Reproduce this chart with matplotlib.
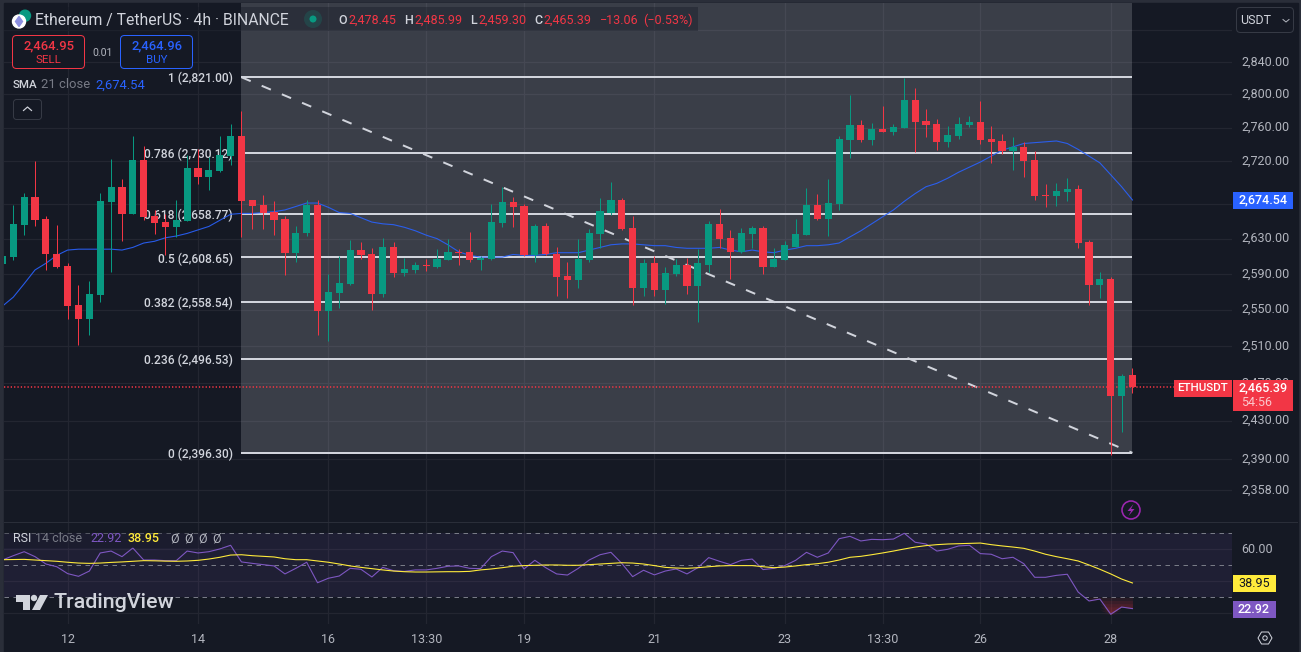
import matplotlib
matplotlib.use("Agg")
import matplotlib.pyplot as plt
from matplotlib.patches import Circle, FancyBboxPatch, Polygon, Rectangle
import numpy as np

plt.rcParams['font.family'] = ['Roboto', 'DejaVu Sans']
plt.rcParams['ytick.alignment'] = 'center'

# 4h candles, first one is cut by the left edge of the chart
opens = [2601, 2609, 2646, 2678, 2652, 2613, 2599, 2555, 2540, 2566, 2672, 2690, 2658, 2722, 2656, 2649, 2643, 2650,
         2712, 2701, 2708, 2726, 2750, 2674, 2669, 2661, 2652, 2614, 2636, 2669, 2549, 2569, 2579, 2617, 2612, 2568,
         2620, 2591, 2594.5, 2600, 2598, 2606, 2615, 2615, 2606, 2607, 2648, 2672, 2667, 2611, 2644, 2613, 2588, 2583,
         2606, 2635, 2660, 2674, 2642, 2574, 2602, 2572, 2590, 2600, 2576, 2600, 2647, 2631, 2615, 2635, 2642, 2598,
         2606, 2621, 2634, 2669, 2652, 2670, 2745, 2763, 2745, 2758, 2755, 2759, 2793, 2768, 2764, 2743, 2750, 2763,
         2767, 2746, 2744, 2732, 2737, 2721, 2680, 2679, 2684, 2687, 2626, 2578, 2584, 2456, 2478.45]
highs = [2614, 2669, 2683, 2720, 2656, 2646, 2602, 2578, 2582, 2683, 2723, 2699, 2750, 2738, 2663, 2658, 2674, 2727,
         2734, 2725, 2750, 2764, 2780, 2674, 2680, 2673, 2656, 2644, 2675, 2674, 2590, 2610, 2628, 2626, 2619, 2631,
         2626, 2608, 2603, 2607, 2618, 2630, 2618, 2638, 2610, 2670, 2690, 2678, 2670, 2647, 2648, 2621, 2604, 2630,
         2641, 2677, 2695, 2677, 2656, 2607, 2610, 2598, 2607, 2608, 2618, 2650, 2664, 2640, 2642, 2644, 2644, 2619,
         2627, 2652, 2688, 2681, 2699, 2750, 2799, 2769, 2765, 2786, 2764, 2820, 2808, 2782, 2770, 2762, 2773, 2774,
         2792, 2762, 2752, 2749, 2743, 2732, 2693, 2694, 2700, 2692, 2628, 2592, 2587, 2480, 2485.99]
lows = [2596, 2606, 2634, 2644, 2594, 2597, 2540, 2511, 2522, 2559, 2592, 2627, 2658, 2651, 2635, 2611, 2632, 2650,
        2693, 2686, 2707, 2715, 2632, 2641, 2641, 2634, 2589, 2604, 2633, 2522, 2516, 2552, 2578, 2607, 2550, 2564,
        2587, 2588, 2591, 2593, 2597, 2606, 2600, 2604, 2594, 2606, 2643, 2643, 2610, 2603, 2611, 2565, 2563, 2574,
        2604, 2619, 2657, 2640, 2555, 2565, 2565, 2556, 2588, 2567, 2537, 2592, 2619, 2584, 2614, 2619, 2590, 2598,
        2606, 2621, 2634, 2651, 2633, 2663, 2724, 2743, 2739, 2755, 2751, 2759, 2731, 2749, 2733, 2737, 2746, 2761,
        2740, 2718, 2728, 2710, 2701, 2675, 2666, 2667, 2673, 2619, 2555, 2563, 2394, 2418, 2459.30]
closes = [2610, 2647, 2678, 2651, 2612, 2598, 2554, 2540, 2568, 2673, 2690, 2658, 2722, 2655, 2648, 2643, 2651, 2712,
          2701, 2710, 2727, 2750, 2673, 2667, 2660, 2651, 2614, 2637, 2669, 2549, 2570, 2580, 2617, 2611, 2568, 2620,
          2591, 2596, 2600, 2599, 2607, 2615, 2614, 2606, 2608, 2649, 2672, 2666, 2611, 2644, 2612, 2587, 2583, 2607,
          2636, 2662, 2674, 2641, 2574, 2602, 2572, 2591, 2600, 2576, 2602, 2647, 2630, 2615, 2636, 2642, 2598, 2607,
          2623, 2635, 2669, 2652, 2671, 2746, 2763, 2745, 2758, 2755, 2761, 2793, 2767, 2763, 2743, 2751, 2764, 2767,
          2745, 2743, 2732, 2737, 2720, 2679, 2679, 2685, 2687, 2625, 2578, 2584, 2456, 2478, 2465.39]

sma21 = [2554, 2564, 2579, 2594.5, 2602, 2611, 2617, 2618, 2618, 2618, 2618, 2617, 2620, 2625, 2627, 2631, 2633,
         2636, 2640, 2644, 2651, 2658, 2659, 2659, 2660, 2661, 2663, 2667, 2671, 2671, 2666, 2660, 2659, 2654, 2649,
         2647, 2646, 2643, 2639, 2634, 2630, 2623, 2615, 2611, 2609, 2609, 2609, 2612, 2611, 2611, 2612, 2614, 2614,
         2614, 2617, 2620, 2623, 2624, 2624, 2623, 2622, 2622, 2620, 2619, 2619, 2619, 2620, 2617, 2615, 2617, 2615,
         2614, 2617, 2619, 2622, 2622, 2623, 2625, 2632, 2639, 2647, 2655, 2663, 2673, 2682, 2690, 2694, 2700, 2707,
         2713, 2719, 2726, 2733, 2737, 2741, 2742, 2743, 2744, 2741, 2734, 2726, 2718, 2704, 2690, 2674.54]

rsi = [53.3, 56.0, 58.5, 55.4, 50.8, 49.1, 44.8, 43.1, 46.4, 57.7, 58.9, 55.4, 60.8, 53.3, 53.3, 52.9, 52.9, 58.9,
       57.7, 58.5, 60.2, 62.5, 52.1, 51.2, 50.4, 49.6, 44.6, 48.1, 51.9, 39.1, 41.9, 43.3, 48.1, 47.5, 42.7, 48.7,
       46.6, 46.2, 47.1, 47.1, 48.1, 49.4, 49.6, 48.1, 47.9, 55.4, 58.9, 57.9, 47.7, 53.1, 48.5, 44.6, 43.9, 48.1,
       53.3, 56.6, 58.1, 51.2, 42.9, 46.9, 44.0, 46.4, 47.7, 44.6, 48.5, 54.8, 52.5, 50.4, 53.1, 53.9, 47.3, 48.1,
       49.8, 53.1, 58.1, 55.0, 57.7, 66.6, 68.1, 65.2, 66.2, 66.0, 66.4, 70.0, 64.4, 63.3, 58.9, 60.0, 62.1, 62.5,
       57.3, 56.9, 54.1, 55.0, 51.0, 42.5, 42.5, 43.7, 44.4, 33.3, 27.7, 28.9, 19.4, 23.9, 22.92]
rsi_ma = [53.5, 53.6, 53.7, 53.3, 52.9, 52.5, 51.9, 51.4, 51.2, 51.4, 51.8, 52.1, 52.5, 52.9, 52.8, 52.6, 52.5, 52.7,
          53.1, 53.9, 55.0, 56.4, 56.6, 56.0, 55.6, 55.2, 54.1, 53.5, 53.5, 52.7, 51.9, 50.8, 49.6, 48.7, 47.9, 47.1,
          46.4, 46.0, 45.8, 45.8, 45.9, 46.0, 46.0, 46.2, 47.1, 47.7, 48.5, 49.4, 49.8, 50.0, 50.2, 50.2, 50.0, 50.0,
          50.4, 50.8, 51.2, 51.6, 51.4, 50.8, 49.8, 48.7, 48.3, 48.1, 48.5, 49.1, 49.6, 49.8, 49.8, 49.8, 49.1, 48.5,
          48.9, 49.6, 50.4, 51.0, 51.9, 53.3, 55.0, 55.6, 56.6, 57.7, 58.9, 60.2, 61.4, 62.3, 62.9, 63.3, 63.5, 63.7,
          63.9, 62.9, 62.1, 61.4, 60.6, 58.9, 56.9, 55.4, 54.1, 52.7, 50.2, 47.5, 44.6, 41.4, 38.95]

fib_ratios = ['1', '0.786', '0.618', '0.5', '0.382', '0.236', '0']
fib_prices = [2821.00, 2730.12, 2658.77, 2608.65, 2558.54, 2496.53, 2396.30]

price_ticks = [2880, 2840, 2800, 2760, 2720, 2670, 2630, 2590, 2550, 2510, 2470, 2430, 2390, 2358]
hidden_ticks = [2880, 2670]  # sit behind the USDT button and the SMA price tag
date_ticks = [5, 17, 29, 38, 47, 59, 71, 80, 89, 101]
date_labels = ['12', '14', '16', '13:30', '19', '21', '23', '13:30', '26', '28']
rsi_grid = [60, 40, 20]
rsi_levels = [70, 50, 30]

W, H = 1301, 652
BG = '#151924'
EDGE = '#2a2e39'
GRID = '#232631'
GREEN = '#089981'
RED = '#f23645'
BLUE = '#2962ff'
PURPLE = '#7e57c2'
YELLOW = '#ffeb3b'
LIGHT = '#d1d4dc'
GREY = '#b2b5be'
PX = 0.72  # one pixel in points at dpi 100


def pane(x0, y0, x1, y1):
    return [x0 / W, 1 - y1 / H, (x1 - x0) / W, (y1 - y0) / H]


bars = np.arange(-1, 104)
opens, highs, lows, closes = map(np.array, (opens, highs, lows, closes))
up = closes >= opens
colors = np.where(up, GREEN, RED)

fig = plt.figure(figsize=(W / 100, H / 100), dpi=100, facecolor=EDGE)
fig.add_artist(Rectangle((4 / W, 0), 1293.7 / W, 649 / H, transform=fig.transFigure, color=BG, zorder=-1))

# price pane
ax = fig.add_axes(pane(4, 3, 1232, 522), facecolor=BG)
ax.set_yscale('log')
ax.set_xlim(-0.856, 112.16)
ax.set_ylim(2325.4, 2913.5)
ax.yaxis.set_minor_locator(matplotlib.ticker.NullLocator())
ax.yaxis.set_minor_formatter(matplotlib.ticker.NullFormatter())
ax.yaxis.tick_right()
ax.set_yticks(price_ticks)
ax.set_yticklabels(['' if t in hidden_ticks else f'{t:,.2f}' for t in price_ticks], fontsize=12.5 * PX, color=GREY)
ax.set_xticks(date_ticks)
ax.tick_params(axis='both', length=0, pad=9 * PX, labelbottom=False)
ax.grid(True, color=GRID, lw=1.2 * PX)
ax.set_axisbelow(True)
for s in ax.spines.values():
    s.set_visible(False)

# fib retracement
fib_start, fib_end = 21, 103
ax.fill_between([fib_start, fib_end], fib_prices[-1], 2913.5, color=LIGHT, alpha=0.2, lw=0, zorder=1)
ax.hlines(fib_prices, fib_start, fib_end, color=LIGHT, lw=2 * PX, zorder=2)
ax.plot([fib_start, fib_end], [fib_prices[0], fib_prices[-1]], color=LIGHT, lw=2 * PX,
        linestyle=(0, (5, 5.95)), dash_capstyle='butt', zorder=2)
for ratio, price in zip(fib_ratios, fib_prices):
    ax.text(20.2, price, f'{ratio} ({price:,.2f})', ha='right', va='center_baseline', fontsize=12 * PX, color=LIGHT,
            fontweight='medium', zorder=3)

ax.plot(bars, sma21, color=BLUE, lw=1.1 * PX, alpha=0.9, zorder=4)
ax.axhline(closes[-1], color=RED, lw=1.6 * PX, linestyle=(0, (0.8, 1.3)), dash_capstyle='butt', zorder=2.5)

# candles
wicks = ax.vlines(bars, lows, highs, color=colors, lw=1 * PX, zorder=5)
wicks.set_snap(True)
ax.bar(bars, np.abs(closes - opens), bottom=np.minimum(opens, closes), width=0.66, color=colors, lw=0, zorder=6)

# rsi pane
rx = fig.add_axes(pane(4, 522, 1232, 624), facecolor=BG)
rx.set_xlim(-0.856, 112.16)
rx.set_ylim(13.3, 77.06)
rx.yaxis.tick_right()
rx.set_yticks(rsi_grid)
rx.set_yticklabels(['60.00', '', ''], fontsize=12.5 * PX, color=GREY)
rx.set_xticks(date_ticks)
rx.set_xticklabels(date_labels, fontsize=12.5 * PX, color=GREY)
rx.tick_params(axis='both', length=0, pad=9 * PX)
rx.grid(True, color=GRID, lw=1.2 * PX)
rx.set_axisbelow(True)
for s in rx.spines.values():
    s.set_visible(False)
rx.axhspan(30, 70, color=PURPLE, alpha=0.1, lw=0, zorder=1)
rx.hlines(rsi_levels, -0.856, 112.16, color='#787b86', lw=1 * PX, linestyle=(0, (4.5, 4.5)), zorder=2)
rsi_arr = np.array(rsi)
for level in [30, 28, 26, 24, 22, 20]:
    rx.fill_between(bars[-5:], np.minimum(rsi_arr[-5:], level), level, color=RED, alpha=0.09, lw=0, zorder=2)
rx.plot(bars, rsi, color=PURPLE, lw=1.1 * PX, zorder=3)
rx.plot(bars, rsi_ma, color=YELLOW, lw=1.1 * PX, zorder=4)

# overlay in pixels for the TradingView chrome
ov = fig.add_axes([0, 0, 1, 1], zorder=20)
ov.set_xlim(0, W)
ov.set_ylim(H, 0)
ov.axis('off')


def label(x, y, s, size=12, color=LIGHT, ha='left', weight='normal'):
    ov.text(x, y, s, fontsize=size * PX, color=color, ha=ha, va='center', fontweight=weight)


def box(x0, y0, x1, y1, face, edge='none', radius=0.0, alpha=1.0, lw=1.0):
    if radius:
        p = FancyBboxPatch((x0, y0), x1 - x0, y1 - y0, boxstyle=f'round,pad=0,rounding_size={radius}',
                           facecolor=face, edgecolor=edge, lw=lw * PX, alpha=alpha)
    else:
        p = Rectangle((x0, y0), x1 - x0, y1 - y0, facecolor=face, edgecolor=edge, lw=0, alpha=alpha)
    ov.add_patch(p)


# separator between panes
box(4, 521.5, 1297.7, 522.7, EDGE)

# title row
box(4, 7, 698, 31, BG, alpha=0.38)
ov.add_patch(Circle((25, 15.7), 5.5, color=GREEN))
ov.add_patch(Circle((19, 21.5), 6.5, color='#ffffff'))
ov.add_patch(Polygon([(19, 16.5), (22.5, 21.5), (19, 26.5), (15.5, 21.5)], color='#8c8fe0'))
label(35, 20, 'Ethereum / TetherUS · 4h · BINANCE', 15.7, LIGHT)
ov.add_patch(Circle((313, 19), 9, color=GREEN, alpha=0.2, lw=0))
ov.add_patch(Circle((313, 19), 3.5, color=GREEN, lw=0))
label(338, 20, 'O', 12.5, LIGHT, weight='medium')
label(348, 20, '2,478.45', 12.5, RED)
label(404, 20, 'H', 12.5, LIGHT, weight='medium')
label(414, 20, '2,485.99', 12.5, RED)
label(470, 20, 'L', 12.5, LIGHT, weight='medium')
label(478, 20, '2,459.30', 12.5, RED)
label(534, 20, 'C', 12.5, LIGHT, weight='medium')
label(543, 20, '2,465.39', 12.5, RED)
label(600, 20, '\u221213.06', 12.5, RED)
label(643, 20, '(\u22120.53%)', 12.5, RED)

# sell / buy
box(12.5, 35.5, 84.5, 68.5, BG, RED, 4)
label(48.5, 46, '2,464.95', 13, RED, 'center', 'medium')
label(48.5, 60, 'SELL', 11.5, RED, 'center')
label(102.5, 53, '0.01', 10.5, GREY, 'center')
box(120.5, 35.5, 192.5, 68.5, BG, BLUE, 4)
label(156.5, 46, '2,464.96', 13, BLUE, 'center', 'medium')
label(156.5, 60, 'BUY', 11.5, BLUE, 'center')

# sma legend
label(13, 85, 'SMA', 11.5, LIGHT, weight='medium')
label(41, 85, '21 close', 13, '#787b86')
label(95, 85, '2,674.54', 13, BLUE)
box(13.5, 99.5, 41.5, 119.5, BG, '#363a45', 3)
ov.plot([23.5, 27.5, 31.5], [110.5, 107, 110.5], color=LIGHT, lw=1.2 * PX)

# right side labels
box(1236.5, 7.5, 1293.5, 32.5, BG, '#363a45', 4)
label(1240, 20, 'USDT', 12.5, LIGHT)
ov.plot([1283, 1286, 1289], [19.5, 22, 19.5], color=GREY, lw=1 * PX)
box(1233, 192, 1293, 209, BLUE)
label(1287.5, 200, '2,674.54', 12.5, '#ffffff', 'right', 'medium')
box(1174, 380, 1232, 397, RED)
label(1203, 388, 'ETHUSDT', 11.5, '#ffffff', 'center', 'medium')
box(1233, 380, 1293, 411, RED)
label(1287.5, 388, '2,465.39', 12.5, '#ffffff', 'right', 'medium')
label(1241, 402, '54:56', 12.5, '#fbc6cb')
box(1233, 575, 1276, 592, YELLOW)
label(1270, 583.5, '38.95', 12.5, '#131722', 'right')
box(1233, 601, 1276, 618, PURPLE)
label(1270, 609.5, '22.92', 12.5, '#ffffff', 'right', 'medium')

# lightning badge
ov.add_patch(Circle((1131, 510), 9, facecolor='none', edgecolor='#9c27b0', lw=1.6 * PX))
ov.add_patch(Polygon([(1133.5, 504), (1127.5, 511), (1131, 511), (1128.5, 516), (1134.5, 509), (1131, 509)],
                     color='#9c27b0', lw=0))

# rsi legend
box(4, 531, 222, 548, BG, alpha=0.35)
label(13, 539, 'RSI', 12.5, LIGHT)
label(35, 539, '14 close', 12.5, '#787b86')
label(90, 539, '22.92', 12.5, PURPLE)
label(128, 539, '38.95', 12.5, YELLOW, weight='medium')
for x in (170, 184, 198, 212):
    label(x, 539, 'Ø', 12.5, GREY)

# logo
ov.add_patch(Polygon([(16, 595), (30, 595), (30, 610), (23, 610), (23, 601.5), (16, 601.5)], color=LIGHT, lw=0))
ov.add_patch(Circle((34, 598), 3.2, color=LIGHT, lw=0))
ov.add_patch(Polygon([(40, 595), (48, 595), (40, 610), (32, 610)], color=LIGHT, lw=0))
label(54, 603, 'TradingView', 21.5, LIGHT, weight='medium')

# settings icon
hex_x = [1258, 1261.5, 1268.5, 1272, 1268.5, 1261.5]
hex_y = [638, 632, 632, 638, 644, 644]
ov.add_patch(Polygon(list(zip(hex_x, hex_y)), facecolor='none', edgecolor=LIGHT, lw=1 * PX))
ov.add_patch(Circle((1265, 638), 2.2, facecolor='none', edgecolor=LIGHT, lw=1 * PX))

fig.savefig('out.png', dpi=100, facecolor=fig.get_facecolor())
